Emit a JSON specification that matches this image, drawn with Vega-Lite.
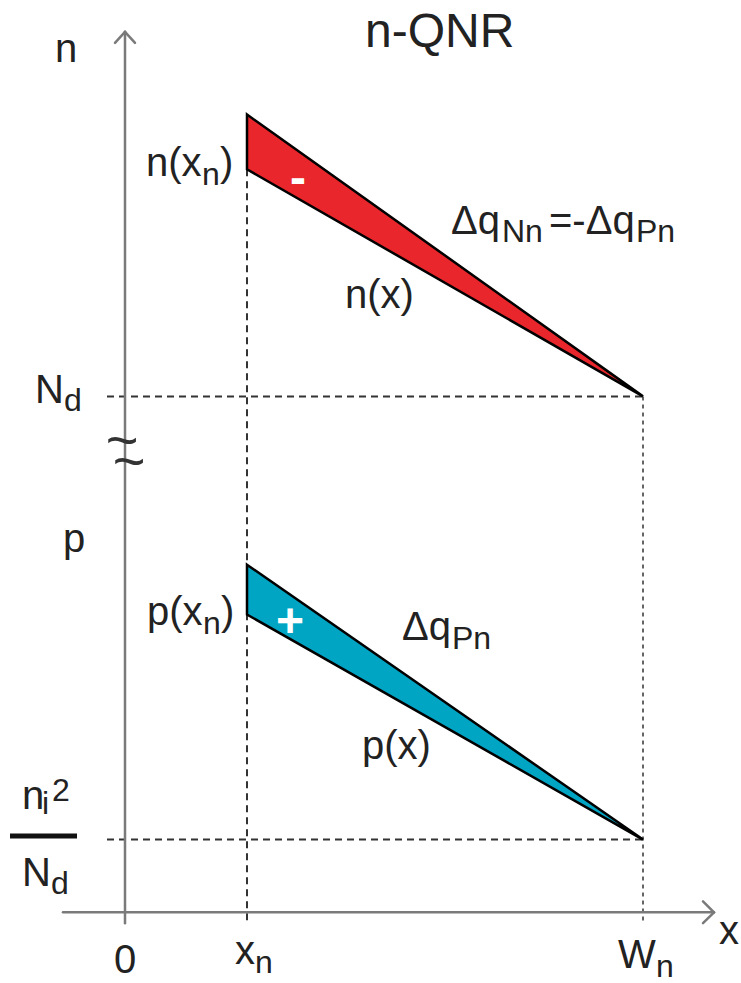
{
  "$schema": "https://vega.github.io/schema/vega-lite/v6.json",
  "width": 741,
  "height": 983,
  "padding": 0,
  "autosize": {"type": "fit", "contains": "padding"},
  "background": "white",
  "config": {"view": {"stroke": null}, "text": {"font": "Liberation Sans"}},
  "datasets": {
    "bands": [
      {"band": "n", "x": 122, "top": 801, "bottom": 746},
      {"band": "n", "x": 518, "top": 518, "bottom": 518},
      {"band": "p", "x": 122, "top": 349, "bottom": 299},
      {"band": "p", "x": 518, "top": 73, "bottom": 73}
    ],
    "axes": [
      {"x": 0, "y": -11, "x2": 0, "y2": 884},
      {"x": -10, "y": 873, "x2": 0, "y2": 884},
      {"x": 10, "y": 873, "x2": 0, "y2": 884},
      {"x": -62, "y": 0, "x2": 589, "y2": 0},
      {"x": 578, "y": 11, "x2": 589, "y2": 0},
      {"x": 578, "y": -11, "x2": 589, "y2": 0}
    ],
    "dashes": [
      {"x": -18, "y": 518, "x2": 518, "y2": 518},
      {"x": -18, "y": 73, "x2": 518, "y2": 73},
      {"x": 122, "y": 746, "x2": 122, "y2": -12}
    ],
    "finedash": [
      {"x": 518, "y": 518, "x2": 518, "y2": -12}
    ],
    "bar": [
      {"x": -115, "y": 76.5, "x2": -48, "y2": 76.5}
    ],
    "texts": [
      {"role": "title", "t": "n-QNR", "x": 240, "y": 869},
      {"role": "main", "t": "n", "x": -70, "y": 854},
      {"role": "main", "t": "n(x", "x": 21, "y": 739},
      {"role": "sub", "t": "n", "x": 77, "y": 730},
      {"role": "main", "t": ")", "x": 95, "y": 739},
      {"role": "main", "t": "Δq", "x": 326, "y": 681},
      {"role": "sub", "t": "Nn", "x": 377, "y": 673},
      {"role": "main", "t": "=-Δq", "x": 424, "y": 681},
      {"role": "sub", "t": "Pn", "x": 511, "y": 673},
      {"role": "main", "t": "n(x)", "x": 220, "y": 607},
      {"role": "main", "t": "N", "x": -90, "y": 511},
      {"role": "sub", "t": "d", "x": -61, "y": 503},
      {"role": "main", "t": "p", "x": -62, "y": 362},
      {"role": "main", "t": "p(x", "x": 22, "y": 288},
      {"role": "sub", "t": "n", "x": 78, "y": 279},
      {"role": "main", "t": ")", "x": 96, "y": 288},
      {"role": "main", "t": "Δq", "x": 277, "y": 273},
      {"role": "sub", "t": "Pn", "x": 327, "y": 264},
      {"role": "main", "t": "p(x)", "x": 237, "y": 154},
      {"role": "main", "t": "n", "x": -103, "y": 104},
      {"role": "sub", "t": "i", "x": -83, "y": 99},
      {"role": "sub", "t": "2", "x": -73, "y": 112},
      {"role": "main", "t": "N", "x": -103, "y": 26},
      {"role": "sub", "t": "d", "x": -74, "y": 18},
      {"role": "main", "t": "0", "x": -11, "y": -61},
      {"role": "main", "t": "x", "x": 110, "y": -52},
      {"role": "sub", "t": "n", "x": 130, "y": -61},
      {"role": "main", "t": "W", "x": 493, "y": -56},
      {"role": "sub", "t": "n", "x": 531, "y": -65},
      {"role": "main", "t": "x", "x": 594, "y": -32},
      {"role": "sign", "t": "-", "x": 173, "y": 721},
      {"role": "sign", "t": "+", "x": 165, "y": 276},
      {"role": "sym", "t": "~", "x": -3, "y": 455},
      {"role": "sym", "t": "~", "x": 4, "y": 434}
    ]
  },
  "layer": [
    {
      "data": {"name": "dashes"},
      "mark": {"type": "rule", "color": "#333333", "strokeWidth": 2, "strokeDash": [7, 5]},
      "encoding": {
        "x": {"field": "x", "type": "quantitative", "scale": {"domain": [-125, 616], "nice": false, "zero": false}, "axis": null},
        "y": {"field": "y", "type": "quantitative", "scale": {"domain": [-67, 916], "nice": false, "zero": false}, "axis": null},
        "x2": {"field": "x2"},
        "y2": {"field": "y2"}
      }
    },
    {
      "data": {"name": "finedash"},
      "mark": {"type": "rule", "color": "#333333", "strokeWidth": 1.5, "strokeDash": [4, 4]},
      "encoding": {
        "x": {"field": "x", "type": "quantitative"},
        "y": {"field": "y", "type": "quantitative"},
        "x2": {"field": "x2"},
        "y2": {"field": "y2"}
      }
    },
    {
      "data": {"name": "bands"},
      "mark": {"type": "area", "stroke": "black", "strokeWidth": 2.5, "strokeJoin": "miter", "fillOpacity": 1},
      "encoding": {
        "x": {"field": "x", "type": "quantitative"},
        "y": {"field": "top", "type": "quantitative"},
        "y2": {"field": "bottom"},
        "color": {"field": "band", "type": "nominal", "scale": {"domain": ["n", "p"], "range": ["#E8262B", "#00A5C4"]}, "legend": null}
      }
    },
    {
      "data": {"name": "axes"},
      "mark": {"type": "rule", "color": "#7a7a7a", "strokeWidth": 2.5, "strokeCap": "round"},
      "encoding": {
        "x": {"field": "x", "type": "quantitative"},
        "y": {"field": "y", "type": "quantitative"},
        "x2": {"field": "x2"},
        "y2": {"field": "y2"}
      }
    },
    {
      "data": {"name": "bar"},
      "mark": {"type": "rule", "color": "#111111", "strokeWidth": 5},
      "encoding": {
        "x": {"field": "x", "type": "quantitative"},
        "y": {"field": "y", "type": "quantitative"},
        "x2": {"field": "x2"},
        "y2": {"field": "y2"}
      }
    },
    {
      "data": {"name": "texts"},
      "transform": [{"filter": "datum.role === 'main'"}],
      "mark": {"type": "text", "fontSize": 40, "align": "left", "baseline": "alphabetic", "color": "#222222"},
      "encoding": {
        "x": {"field": "x", "type": "quantitative"},
        "y": {"field": "y", "type": "quantitative"},
        "text": {"field": "t"}
      }
    },
    {
      "data": {"name": "texts"},
      "transform": [{"filter": "datum.role === 'sub'"}],
      "mark": {"type": "text", "fontSize": 32, "align": "left", "baseline": "alphabetic", "color": "#222222"},
      "encoding": {
        "x": {"field": "x", "type": "quantitative"},
        "y": {"field": "y", "type": "quantitative"},
        "text": {"field": "t"}
      }
    },
    {
      "data": {"name": "texts"},
      "transform": [{"filter": "datum.role === 'title'"}],
      "mark": {"type": "text", "fontSize": 48, "align": "left", "baseline": "alphabetic", "color": "#222222"},
      "encoding": {
        "x": {"field": "x", "type": "quantitative"},
        "y": {"field": "y", "type": "quantitative"},
        "text": {"field": "t"}
      }
    },
    {
      "data": {"name": "texts"},
      "transform": [{"filter": "datum.role === 'sign'"}],
      "mark": {"type": "text", "fontSize": 48, "fontWeight": "bold", "align": "center", "baseline": "alphabetic", "color": "white"},
      "encoding": {
        "x": {"field": "x", "type": "quantitative"},
        "y": {"field": "y", "type": "quantitative"},
        "text": {"field": "t"}
      }
    },
    {
      "data": {"name": "texts"},
      "transform": [{"filter": "datum.role === 'sym'"}],
      "mark": {"type": "text", "fontSize": 56, "align": "center", "baseline": "alphabetic", "color": "#333333"},
      "encoding": {
        "x": {"field": "x", "type": "quantitative"},
        "y": {"field": "y", "type": "quantitative"},
        "text": {"field": "t"}
      }
    }
  ]
}
